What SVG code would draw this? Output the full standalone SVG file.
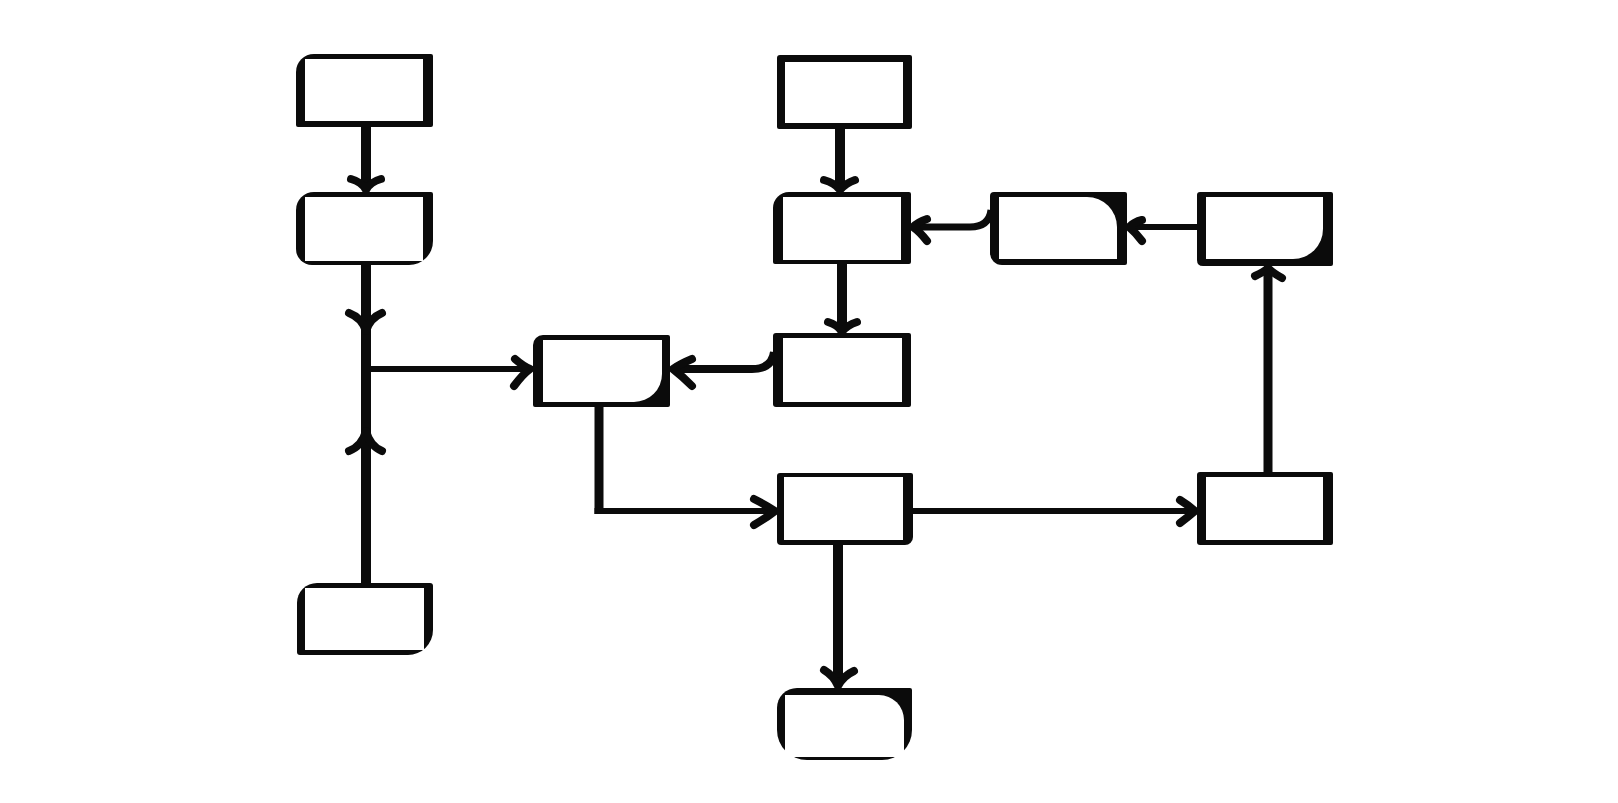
<svg xmlns="http://www.w3.org/2000/svg" width="1618" height="803" viewBox="0 0 1618 803">
<style>
.frame{fill:#0b0b0b}
.inner{fill:#ffffff}
.thick{fill:none;stroke:#0b0b0b;stroke-width:10;stroke-linecap:butt}
.thin{fill:none;stroke:#0b0b0b;stroke-width:6;stroke-linecap:butt;stroke-linejoin:round}
.ah{fill:none;stroke:#0b0b0b;stroke-width:8;stroke-linecap:round;stroke-linejoin:round}
</style>
<rect width="1618" height="803" fill="#ffffff"/>
<g id="connectors">
  <path class="thick" d="M366,127 V186"/>
  <path class="ah" d="M351,179 Q362,182 366,190 Q370,182 381,179"/>
  <path class="thick" d="M366,265 V372"/>
  <path class="ah" d="M349,313 Q362,318 366,331 Q370,318 382,313"/>
  <path class="thick" d="M366,583 V366"/>
  <path class="ah" d="M349,451 Q362,446 366,431 Q370,446 382,451"/>
  <path class="thin" d="M366,369 H528"/>
  <path class="ah" d="M515,359 Q523,366 530,369 Q523,374 514,386"/>
  <path class="thick" d="M840,129 V186"/>
  <path class="ah" d="M824,180 Q835,183 840,190 Q846,183 855,180"/>
  <path class="thick" d="M842,264 V328"/>
  <path class="ah" d="M828,322 Q838,325 842,332 Q847,325 857,322"/>
  <path class="thin" style="stroke-width:7" d="M991,210 Q989,227 970,227 H915"/>
  <path class="ah" d="M927,219 Q918,222 913,227 Q920,232 927,241"/>
  <path class="thin" d="M1197,227 H1131"/>
  <path class="ah" d="M1142,220 Q1134,222 1129,227 Q1136,233 1142,241"/>
  <path class="thin" style="stroke-width:8" d="M774,352 Q772,369 752,369 H676"/>
  <path class="ah" d="M692,359 Q680,364 673,369 Q682,376 692,386"/>
  <path class="thin" style="stroke-width:9" d="M599,407 V514"/>
  <path class="thin" d="M594.5,511 H772"/>
  <path class="ah" d="M754,499 Q766,505 775,511 Q766,518 754,525"/>
  <path class="thin" d="M913,511 H1193"/>
  <path class="ah" d="M1180,500 Q1188,505 1195,511 Q1188,517 1180,523"/>
  <path class="thick" d="M838,545 V682"/>
  <path class="ah" d="M824,670 Q834,676 838,686 Q843,676 854,671"/>
  <path class="thick" style="stroke-width:9" d="M1268,472 V272"/>
  <path class="ah" d="M1255,276 Q1264,272 1268,268 Q1273,273 1282,278"/>
</g>
<g id="node-a">
  <path class="frame" d="M314,54 H431 Q433,54 433,56 V125 Q433,127 431,127 H298 Q296,127 296,125 V72 A18,18 0 0 1 314,54 Z"/>
  <rect class="inner" x="305" y="59" width="118" height="62"/>
</g>
<g id="node-b">
  <path class="frame" d="M314,192 H431 Q433,192 433,194 V241 A24,24 0 0 1 409,265 H312 A16,16 0 0 1 296,249 V210 A18,18 0 0 1 314,192 Z"/>
  <rect class="inner" x="305" y="197" width="118" height="64"/>
</g>
<g id="node-c">
  <path class="frame" d="M543,335 H668 Q670,335 670,337 V405 Q670,407 668,407 H535 Q533,407 533,405 V345 A10,10 0 0 1 543,335 Z"/>
  <path class="inner" d="M543,340 H662 V374 A28,28 0 0 1 634,402 H543 Z"/>
</g>
<g id="node-h">
  <path class="frame" d="M780,55 H910 Q912,55 912,57 V127 Q912,129 910,129 H779 Q777,129 777,127 V58 Q777,55 780,55 Z"/>
  <rect class="inner" x="785" y="62" width="118" height="61"/>
</g>
<g id="node-d">
  <path class="frame" d="M789,192 H909 Q911,192 911,194 V262 Q911,264 909,264 H775 Q773,264 773,262 V208 A16,16 0 0 1 789,192 Z"/>
  <rect class="inner" x="783" y="197" width="118" height="63"/>
</g>
<g id="node-e">
  <path class="frame" d="M994,192 H1125 Q1127,192 1127,194 V263 Q1127,265 1125,265 H1002 A12,12 0 0 1 990,253 V196 Q990,192 994,192 Z"/>
  <path class="inner" d="M999,197 H1087 A30,30 0 0 1 1117,227 V259 H999 Z"/>
</g>
<g id="node-f">
  <path class="frame" d="M1200,192 H1331 Q1333,192 1333,194 V264 Q1333,266 1331,266 H1203 Q1197,266 1197,260 V195 Q1197,192 1200,192 Z"/>
  <path class="inner" d="M1206,197 H1323 V229 A30,30 0 0 1 1293,259 H1206 Z"/>
</g>
<g id="node-g">
  <path class="frame" d="M776,333 H909 Q911,333 911,335 V405 Q911,407 909,407 H776 Q773,407 773,404 V336 Q773,333 776,333 Z"/>
  <rect class="inner" x="783" y="338" width="119" height="64"/>
</g>
<g id="node-i">
  <path class="frame" d="M780,473 H911 Q913,473 913,475 V537 A8,8 0 0 1 905,545 H781 Q777,545 777,541 V476 Q777,473 780,473 Z"/>
  <rect class="inner" x="784" y="477" width="119" height="63"/>
</g>
<g id="node-j">
  <path class="frame" d="M1200,472 H1331 Q1333,472 1333,474 V543 Q1333,545 1331,545 H1200 Q1197,545 1197,542 V475 Q1197,472 1200,472 Z"/>
  <rect class="inner" x="1206" y="477" width="117" height="63"/>
</g>
<g id="node-k">
  <path class="frame" d="M317,583 H430 Q433,583 433,586 V630 A25,25 0 0 1 408,655 H300 Q297,655 297,652 V603 A20,20 0 0 1 317,583 Z"/>
  <rect class="inner" x="305" y="588" width="119" height="62"/>
</g>
<g id="node-l">
  <path class="frame" d="M797,688 H910 Q912,688 912,690 V730 A30,30 0 0 1 882,760 H807 A30,30 0 0 1 777,730 V708 A20,20 0 0 1 797,688 Z"/>
  <path class="inner" d="M785,695 H879 A25,25 0 0 1 904,720 V757 H785 Z"/>
</g>
</svg>
